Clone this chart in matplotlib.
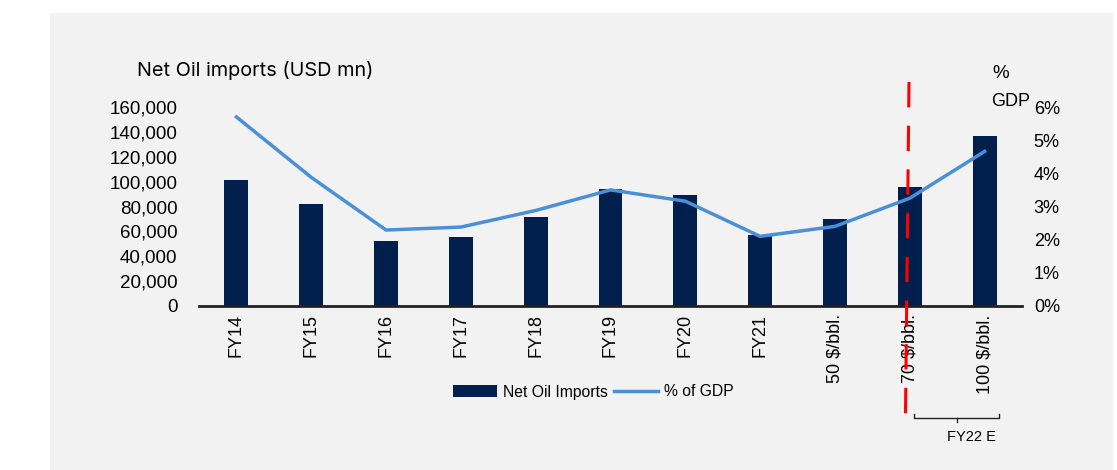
import matplotlib.pyplot as plt
from matplotlib.lines import Line2D
from matplotlib.patches import Rectangle
import numpy as np

'''Data'''
categories = ["FY14", "FY15", "FY16", "FY17", "FY18", "FY19", "FY20", "FY21",
              "50 $/bbl.", "70 $/bbl.", "100 $/bbl."]
net_oil_imports = [101000, 82000, 52000, 55500, 71500, 94000, 89000, 57000, 70000, 95700, 136700]
pct_of_gdp = [5.7, 3.88, 2.29, 2.38, 2.88, 3.5, 3.16, 2.1, 2.4, 3.25, 4.66]
left_ticks = [0, 20000, 40000, 60000, 80000, 100000, 120000, 140000, 160000]
right_ticks = [0, 1, 2, 3, 4, 5, 6]

plt.rcParams['font.family'] = ['Liberation Sans', 'DejaVu Sans']

fig = plt.figure(figsize=(11.17, 4.70), dpi=100)
fig.patch.set_facecolor("white")
# grey panel behind the chart
fig.patches.append(Rectangle((50 / 1117, 0), 1063 / 1117, 457 / 470, transform=fig.transFigure,
                             facecolor="#f2f2f2", edgecolor="none", zorder=-10))

ax = fig.add_axes([199 / 1117, 1 - 306 / 470, 823 / 1117, 199 / 470])
ax.patch.set_visible(False)
x = np.arange(len(categories))
bars = ax.bar(x, net_oil_imports, width=0.32, color="#001f4d", label="Net Oil Imports", zorder=2)
ax.set_xlim(-0.5, len(categories) - 0.5)
ax.set_ylim(0, 160000)
ax.set_yticks(left_ticks)
ax.set_yticklabels([f"{v:,}" for v in left_ticks], fontsize=13.5)
ax.set_xticks(x)
ax.set_xticklabels(categories, rotation=90, fontsize=13, va="top")
ax.tick_params(axis="x", length=0, pad=6)
ax.tick_params(axis="y", length=0, pad=15.5)
for s in ["top", "left", "right"]:
    ax.spines[s].set_visible(False)
ax.spines["bottom"].set_linewidth(2)
ax.spines["bottom"].set_color("#222222")

ax2 = ax.twinx()
ax2.patch.set_visible(False)
line, = ax2.plot(x, pct_of_gdp, color="#4a90d9", linewidth=2.5, label="% of GDP", zorder=3)
ax2.set_ylim(0, 6)
ax2.set_yticks(right_ticks)
ax2.set_yticklabels([f"{v}%" for v in right_ticks], fontsize=13)
ax2.tick_params(axis="y", length=0, pad=8.5)
for s in ["top", "left", "right", "bottom"]:
    ax2.spines[s].set_visible(False)

# axis titles
fig.text(137 / 1117, 1 - 70 / 470, "Net Oil imports (USD mn)", fontsize=14.3, va="center", ha="left",
         family=['Inter', 'Liberation Sans'])
fig.text(992 / 1117, 1 - 73 / 470, "%", fontsize=13.5, va="center", ha="left")
fig.text(991 / 1117, 1 - 101 / 470, "GDP", fontsize=13, va="center", ha="left")

# legend
fig.legend([bars, line], ["Net Oil Imports", "% of GDP"], loc="center",
           bbox_to_anchor=(593.5 / 1117, 1 - 392 / 470), ncol=2, frameon=False,
           fontsize=11.3, handlelength=2.8, handleheight=0.85, handletextpad=0.38,
           columnspacing=0.38)

# red dashed divider
fig.lines.append(Line2D([909 / 1117, 905.5 / 1117], [1 - 82 / 470, 1 - 415 / 470],
                        transform=fig.transFigure, color="red", linewidth=2.2,
                        linestyle=(0, (8.3, 6)), zorder=5))

# FY22 E bracket
bx0, bx1, by = 914 / 1117, 999 / 1117, 1 - 418 / 470
fig.lines.append(Line2D([bx0, bx0, bx1, bx1], [by + 4 / 470, by, by, by + 4 / 470],
                        transform=fig.transFigure, color="#222222", linewidth=1))
fig.lines.append(Line2D([957 / 1117, 957 / 1117], [by, by - 4 / 470],
                        transform=fig.transFigure, color="#222222", linewidth=1))
fig.text(971 / 1117, 1 - 437 / 470, "FY22 E", fontsize=10.5, ha="center", va="center")

fig.savefig("out.png", dpi=100)
